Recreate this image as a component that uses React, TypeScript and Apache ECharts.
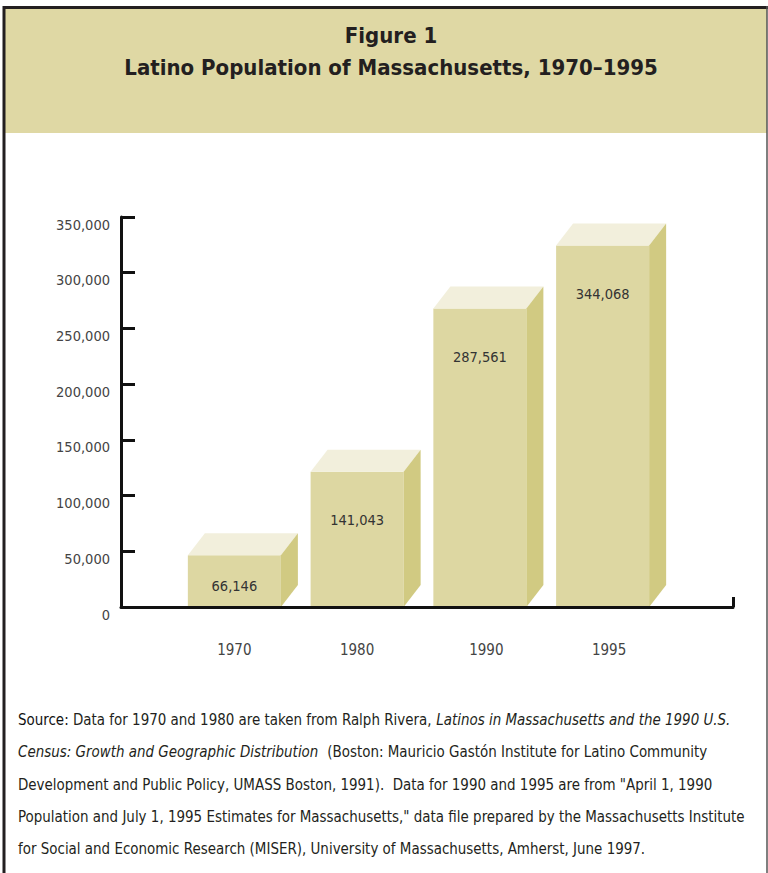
import React, { useEffect, useRef } from "react";
import * as echarts from "echarts";

const years = ["1970", "1980", "1990", "1995"];
const population = [66146, 141043, 287561, 344068];
const yTicks = [0, 50000, 100000, 150000, 200000, 250000, 300000, 350000];

const sourceLines = [
  "{b|Source:} Data for 1970 and 1980 are taken from Ralph Rivera, {i|Latinos in Massachusetts and the 1990 U.S.}",
  "{i|Census: Growth and Geographic Distribution}  (Boston: Mauricio Gastón Institute for Latino Community",
  "Development and Public Policy, UMASS Boston, 1991).  Data for 1990 and 1995 are from \"April 1, 1990",
  "Population and July 1, 1995 Estimates for Massachusetts,\" data file prepared by the Massachusetts Institute",
  "for Social and Economic Research (MISER), University of Massachusetts, Amherst, June 1997.",
];

const FONT = "'DejaVu Sans Condensed', 'Liberation Sans Narrow', Roboto, sans-serif";
const FRONT = "#DDD7A2";
const TOP = "#F2EFDC";
const SIDE = "#D1CA82";
const BANNER = "#DFD8A4";
const DX = 17;
const DY = 22;

const fmt = (v: number) => v.toLocaleString("en-US");

export default function App() {
  const ref = useRef<HTMLDivElement>(null);
  useEffect(() => {
    if (!ref.current) return;
    const chart = echarts.init(ref.current, null, { renderer: "svg" });
    const srcFontSize = 16;
    const graphic: any[] = [
      { type: "rect", z: -10, shape: { x: 5, y: 9, width: 762, height: 124 }, style: { fill: BANNER } },
      { type: "line", shape: { x1: 3, y1: 7.5, x2: 768, y2: 7.5 }, style: { stroke: "#231F20", lineWidth: 3 } },
      { type: "line", shape: { x1: 4, y1: 6, x2: 4, y2: 873 }, style: { stroke: "#231F20", lineWidth: 3 } },
      { type: "line", shape: { x1: 767, y1: 6, x2: 767, y2: 873 }, style: { stroke: "#555", lineWidth: 1.5 } },
      {
        type: "text", x: 391, y: 35,
        style: { text: "Figure 1", font: `bold 22px ${FONT}`, fill: "#231F20", align: "center", verticalAlign: "middle" },
      },
      {
        type: "text", x: 391, y: 67,
        style: { text: "Latino Population of Massachusetts, 1970–1995", font: `bold 22px ${FONT}`, fill: "#231F20", align: "center", verticalAlign: "middle" },
      },
    ];
    const lineYs = [720, 752, 785, 817, 849];
    sourceLines.forEach((t, i) => {
      graphic.push({
        type: "text", x: 18, y: lineYs[i], scaleX: 0.935,
        style: {
          text: t,
          fontFamily: FONT, fontSize: srcFontSize, fill: "#231F20",
          align: "left", verticalAlign: "middle",
          rich: {
            i: { fontFamily: FONT, fontSize: srcFontSize, fontStyle: "italic", fill: "#231F20" },
            b: { fontFamily: FONT, fontSize: srcFontSize, fill: "#111" },
          },
        },
      });
    });

    chart.setOption({
      animation: false,
      backgroundColor: "#fff",
      grid: [
        { left: 173, width: 491, top: 217, height: 390 },
        { left: 121, width: 612, top: 217, height: 390 },
      ],
      xAxis: [
        {
          gridIndex: 0, type: "category", data: years,
          axisLine: { show: false }, axisTick: { show: false },
          axisLabel: {
            margin: 35, fontSize: 15, fontFamily: FONT, color: "#444",
            formatter: (v: string, i: number) => (i >= 2 ? `{s|${v}}` : v),
            rich: { s: { fontSize: 15, fontFamily: FONT, color: "#444", padding: [0, 0, 0, 13] } },
          },
        },
        {
          gridIndex: 1, type: "value", min: 0, max: 1, interval: 1, z: 5,
          axisLine: { show: true, lineStyle: { color: "#111", width: 3 } },
          axisTick: { show: true, inside: true, length: 10, lineStyle: { color: "#111", width: 3 } },
          axisLabel: { show: false }, splitLine: { show: false },
        },
      ],
      yAxis: [
        { gridIndex: 0, type: "value", min: 0, max: 350000, show: false },
        {
          gridIndex: 1, type: "value", min: yTicks[0], max: yTicks[yTicks.length - 1], interval: 50000, z: 5,
          axisLine: { show: true, lineStyle: { color: "#111", width: 3 } },
          axisTick: { show: true, inside: true, length: 14, lineStyle: { color: "#111", width: 3 } },
          axisLabel: {
            margin: 11, fontSize: 14.5, fontFamily: FONT, color: "#444",
            verticalAlign: "top", lineHeight: 15,
            formatter: (v: number) => fmt(v),
          },
          splitLine: { show: false },
        },
      ],
      graphic,
      series: [
        {
          type: "custom",
          xAxisIndex: 0, yAxisIndex: 0,
          data: population.map((v, i) => [i, v]),
          renderItem: (params: any, api: any) => {
            const idx = api.value(0);
            const v = api.value(1);
            const base = api.coord([idx, 0]);
            const back = api.coord([idx, v]);
            const bw = api.size([1, 0])[0] * 0.758;
            const x0 = base[0] - bw / 2;
            const x1 = base[0] + bw / 2;
            const yb = base[1];
            const yt = back[1] + DY;
            const ly = Math.min(yt + 48, (yt + yb) / 2 + 5);
            return {
              type: "group",
              children: [
                { type: "rect", shape: { x: x0, y: yt, width: bw, height: yb - yt }, style: { fill: FRONT } },
                { type: "polygon", shape: { points: [[x0, yt], [x0 + DX, yt - DY], [x1 + DX, yt - DY], [x1, yt]] }, style: { fill: TOP } },
                { type: "polygon", shape: { points: [[x1, yt], [x1 + DX, yt - DY], [x1 + DX, yb - DY], [x1, yb]] }, style: { fill: SIDE } },
                {
                  type: "text", x: base[0], y: ly,
                  style: { text: fmt(v), fontFamily: FONT, fontSize: 14.5, fill: "#333", align: "center", verticalAlign: "middle" },
                },
              ],
            };
          },
        },
      ],
    });
    return () => chart.dispose();
  }, []);
  return <div ref={ref} style={{ position: "absolute", left: 0, top: 0, width: 768, height: 873 }} />;
}
